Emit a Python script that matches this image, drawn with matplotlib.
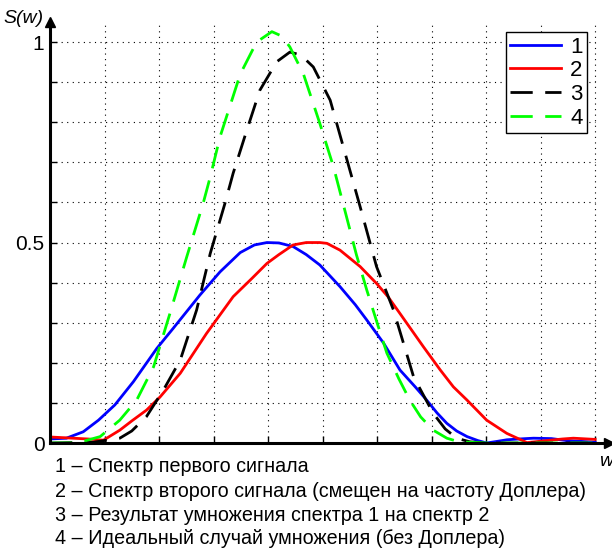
"""
Спектры сигналов и результат умножения
"""
import numpy as np
import matplotlib
matplotlib.use("Agg")
import matplotlib.pyplot as plt

plt.rcParams['font.family'] = ['Liberation Sans', 'DejaVu Sans']

# кривая 1 - спектр первого сигнала
x1 = [0, 0.3, 0.61, 0.89, 1.19, 1.53, 1.96, 2.26, 2.75, 3.12, 3.49, 3.75, 3.98,
      4.2, 4.46, 4.7, 4.95, 5.32, 5.6, 5.81, 6.12, 6.42, 6.7, 6.91, 7.1, 7.28,
      7.46, 7.65, 7.85, 8.01, 8.2, 8.38, 8.6, 8.87, 9.2, 9.48, 9.75, 10]
s1 = [0.01, 0.012, 0.028, 0.057, 0.095, 0.153, 0.236, 0.286, 0.369, 0.427, 0.475,
      0.494, 0.5, 0.499, 0.49, 0.47, 0.444, 0.39, 0.345, 0.307, 0.249, 0.182,
      0.14, 0.107, 0.075, 0.049, 0.03, 0.016, 0.006, 0.0, 0.004, 0.008, 0.01,
      0.012, 0.011, 0.006, 0.004, 0.002]

# кривая 2 - спектр второго сигнала (сдвиг на доплер)
x2 = [0, 0.42, 0.7, 0.98, 1.28, 1.5, 1.77, 2.02, 2.39, 2.87, 3.36, 3.7, 3.98,
      4.2, 4.46, 4.7, 4.95, 5.08, 5.32, 5.69, 5.99, 6.2, 6.42, 6.85, 7.16, 7.4,
      7.65, 8.01, 8.38, 8.75, 9.11, 9.4, 9.6, 10]
s2 = [0.015, 0.012, 0.01, 0.007, 0.032, 0.055, 0.082, 0.115, 0.174, 0.273, 0.365,
      0.41, 0.448, 0.47, 0.494, 0.5, 0.5, 0.498, 0.481, 0.44, 0.398, 0.365,
      0.323, 0.24, 0.182, 0.14, 0.107, 0.057, 0.024, 0.001, 0.006, 0.01, 0.012,
      0.009]

# кривая 3 - произведение спектров 1 и 2
x3 = [0, 0.8, 1.28, 1.5, 1.77, 2.08, 2.39, 2.69, 2.94, 3.21, 3.36, 3.61, 3.85,
      4.16, 4.4, 4.6, 4.83, 5.14, 5.38, 5.69, 5.99, 6.3, 6.67, 7.03, 7.25, 7.46,
      7.7, 8.0, 9, 10]
s3 = [0.0, 0.002, 0.012, 0.03, 0.066, 0.132, 0.207, 0.332, 0.473, 0.598, 0.673,
      0.78, 0.88, 0.951, 0.975, 0.968, 0.938, 0.855, 0.739, 0.589, 0.44, 0.332,
      0.165, 0.074, 0.035, 0.012, 0.003, 0.0, 0.0, 0.0]

# кривая 4 - идеальный случай
x4 = [0, 0.5, 0.92, 1.28, 1.59, 1.9, 2.2, 2.51, 2.81, 2.94, 3.12, 3.49, 3.79,
      4.07, 4.25, 4.40, 4.65, 4.95, 5.2, 5.44, 5.62, 5.81, 6.0, 6.18, 6.4, 6.6,
      6.8, 7.03, 7.28, 7.5, 8, 9, 10]
s4 = [0.0, 0.0, 0.016, 0.057, 0.107, 0.19, 0.323, 0.465, 0.598, 0.664, 0.764,
      0.92, 1.0, 1.026, 1.015, 0.988, 0.92, 0.797, 0.689, 0.564, 0.47, 0.382,
      0.3, 0.224, 0.16, 0.107, 0.065, 0.032, 0.012, 0.003, 0.0, 0.0, 0.0]

labels = ["1", "2", "3", "4"]
captions = [
    "1 \u2013 Спектр первого сигнала",
    "2 \u2013 Спектр второго сигнала (смещен на частоту Доплера)",
    "3 \u2013 Результат умножения спектра 1 на спектр 2",
    "4 \u2013 Идеальный случай умножения (без Доплера)",
]

fig = plt.figure(figsize=(6.12, 5.51), dpi=100)
ax = fig.add_axes([0.0817, 0.196, 0.913, 0.764])

lw = 2.0
ax.plot(x1, s1, color=(0, 0, 1), lw=lw, label=labels[0])
ax.plot(x2, s2, color=(1, 0, 0), lw=lw, label=labels[1])
ax.plot(x3, s3, color='k', lw=lw, dashes=(8, 4.5), label=labels[2])
ax.plot(x4, s4, color=(0, 1, 0), lw=lw, dashes=(8, 4.5), label=labels[3])

ax.set_xlim(0, 10.25)
ax.set_ylim(0, 1.05)

# сетка пунктиром
ax.hlines(np.arange(0.1, 1.01, 0.1), 0, 10, colors='k', linestyles=(0, (1, 4)),
          lw=0.8, zorder=0)
ax.vlines(np.arange(1, 11), 0, 1.05, colors='k', linestyles=(0, (1, 4)),
          lw=0.8, zorder=0)

ax.spines['top'].set_visible(False)
ax.spines['right'].set_visible(False)
ax.spines['left'].set_linewidth(2.2)
ax.spines['bottom'].set_linewidth(2.2)
ax.plot(1, 0, ">k", ms=7, transform=ax.get_yaxis_transform(), clip_on=False)
ax.plot(0, 1, "^k", ms=7, transform=ax.get_xaxis_transform(), clip_on=False)

ax.set_xticks(np.arange(1, 11))
ax.set_xticklabels([])
ax.set_yticks(np.arange(0, 1.01, 0.1))
ax.set_yticklabels(["0", "", "", "", "", "0.5", "", "", "", "", "1"])
ax.tick_params(direction='in', length=5, width=1, labelsize=15, pad=4)

leg = ax.legend(loc='upper right', bbox_to_anchor=(0.961, 0.976), fontsize=16,
                handlelength=2.3, labelspacing=0.12, borderpad=0.2,
                borderaxespad=0, handletextpad=0.4, fancybox=False,
                framealpha=1, edgecolor='k')
leg.get_frame().set_linewidth(1.0)

fig.text(0.006, 0.958, "S(w)", fontsize=14, style='italic')
fig.text(0.978, 0.155, "w", fontsize=14, style='italic')

ys = [0.153, 0.108, 0.0645, 0.022]
for y, c in zip(ys, captions):
    fig.text(0.09, y, c, fontsize=14.2, va='center')

fig.savefig("out.png", dpi=100)
